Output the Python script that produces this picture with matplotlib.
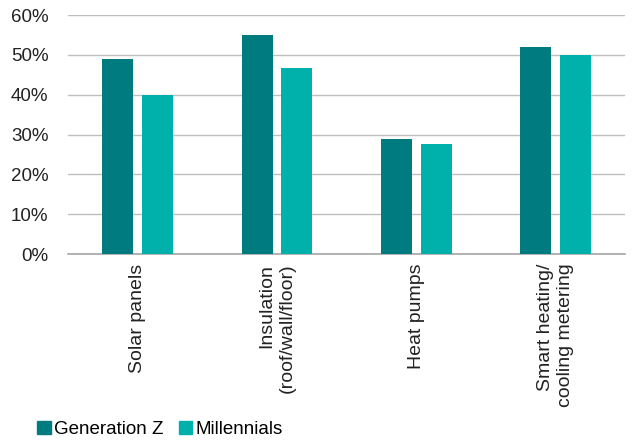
import numpy as np
import matplotlib.pyplot as plt
from matplotlib.patches import Patch

# Data
categories = ["Solar panels", "Insulation\n(roof/wall/floor)", "Heat pumps",
              "Smart heating/\ncooling metering"]
gen_z = [49, 55, 29, 52]
millennials = [40, 46.7, 27.5, 50]
series_names = ["Generation Z", "Millennials"]
colors = ["#007B80", "#00B0AA"]

plt.rcParams['font.family'] = ['Liberation Sans', 'DejaVu Sans']

fig = plt.figure(figsize=(6.38, 4.43), dpi=100)
ax = fig.add_axes([0.1066, 0.4266, 0.8734, 0.5394])

x = np.arange(len(categories))
w = 0.222
off = 0.142
ax.bar(x - off, gen_z, w, color=colors[0], zorder=3)
ax.bar(x + off, millennials, w, color=colors[1], zorder=3)

ax.set_xlim(-0.5, len(categories) - 0.5)
ax.set_ylim(0, 60)
ax.set_yticks(np.arange(0, 61, 10))
ax.set_yticklabels([f"{v}%" for v in range(0, 61, 10)])
ax.yaxis.grid(True, color="#BFBFBF", linewidth=1, zorder=0)
for s in ["top", "right", "left"]:
    ax.spines[s].set_visible(False)
ax.spines["bottom"].set_color("#A6A6A6")
ax.spines["bottom"].set_linewidth(1.2)
ax.tick_params(axis="both", length=0, labelsize=13.5, colors="#222222")
ax.tick_params(axis="y", pad=14)

ax.set_xticks(x)
ax.set_xticklabels(categories, rotation=90, ha="center", va="top",
                   multialignment="right", fontsize=14)
ax.tick_params(axis="x", pad=7)

handles = [Patch(color=c) for c in colors]
fig.legend(handles, series_names, loc="lower left", bbox_to_anchor=(0.047, -0.005),
           ncol=2, frameon=False, fontsize=13.5, handlelength=0.7, handleheight=0.7,
           handletextpad=0.2, columnspacing=0.8, borderaxespad=0)

fig.savefig("out.png", dpi=100)
